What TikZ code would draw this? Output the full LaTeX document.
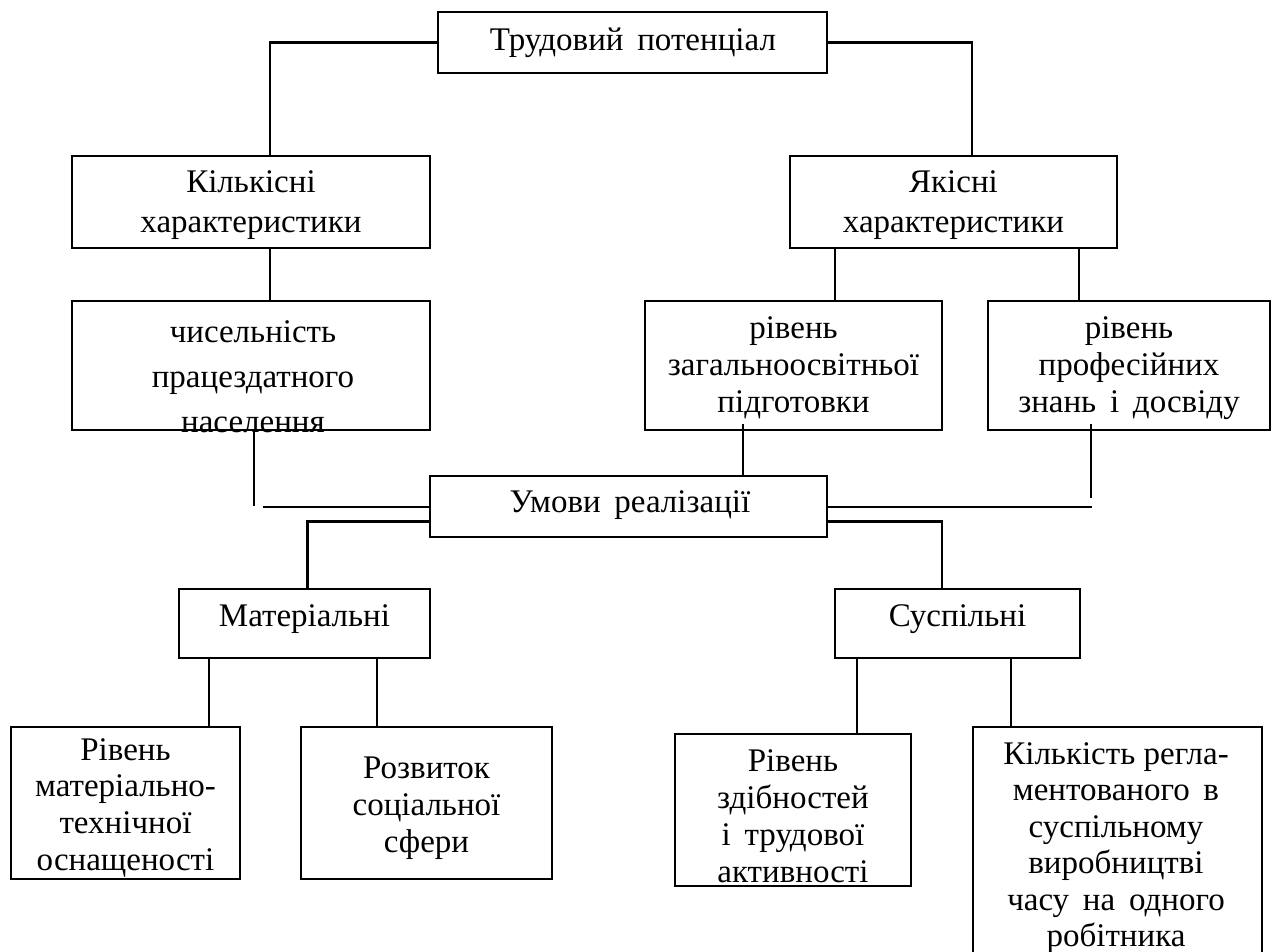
\documentclass[tikz,border=0pt]{standalone}
\usepackage{fontspec}
\setmainfont{Liberation Serif}
\usetikzlibrary{calc}
\begin{document}
\begin{tikzpicture}[x=1pt,y=-1pt,
  box/.style={draw,line width=2.5pt,rectangle,inner sep=0pt},
  txt/.style={align=center,inner sep=0pt,font=\fontsize{33}{37}\selectfont},
  conn/.style={line width=2.5pt}]
\useasboundingbox (0,0) rectangle (1272,952);
\clip (0,0) rectangle (1272,952);
% boxes
\node[box,minimum width=389pt,minimum height=61pt] (top) at (632.5,42.5) {};
\node[box,minimum width=358pt,minimum height=92pt] (kil) at (251,202) {};
\node[box,minimum width=327pt,minimum height=92pt] (yak) at (953.5,202) {};
\node[box,minimum width=358pt,minimum height=129pt] (chys) at (251,365.5) {};
\node[box,minimum width=297pt,minimum height=129pt] (zag) at (793.5,365.5) {};
\node[box,minimum width=282pt,minimum height=129pt] (prof) at (1129,365.5) {};
\node[box,minimum width=397pt,minimum height=61pt] (umovy) at (628.5,506.5) {};
\node[box,minimum width=251pt,minimum height=69pt] (mat) at (304.5,623.5) {};
\node[box,minimum width=245pt,minimum height=69pt] (susp) at (957.5,623.5) {};
\node[box,minimum width=229pt,minimum height=152pt] (rmat) at (125.5,803) {};
\node[box,minimum width=251pt,minimum height=152pt] (rozv) at (426.5,803) {};
\node[box,minimum width=236pt,minimum height=152pt] (rzdib) at (793,810) {};
\node[box,minimum width=289pt,minimum height=263pt] (kilk) at (1117.5,858.5) {};
% texts
\node[txt] (ttop) at (633,43) {Трудовий\, потенціал};
\node[txt,font=\fontsize{33}{40}\selectfont] (tkil) at (251,205) {Кількісні\\характеристики};
\node[txt,font=\fontsize{33}{40}\selectfont] (tyak) at (953.5,205) {Якісні\\характеристики};
\node[txt,font=\fontsize{33}{45}\selectfont] (tchys) at (253,377) {чисельність\\працездатного\\населення};
\node[txt] (tzag) at (793.5,368) {рівень\\загальноосвітньої\\підготовки};
\node[txt] (tprof) at (1129,368) {рівень\\професійних\\знань\, і\, досвіду};
\node[txt] (tumovy) at (630,505) {Умови\, реалізації};
\node[txt] (tmat) at (304.5,619) {Матеріальні};
\node[txt] (tsusp) at (957.5,619) {Суспільні};
\node[txt] (trmat) at (125.5,808) {Рівень\\матеріально-\\технічної\\оснащеності};
\node[txt] (trozv) at (426.5,808) {Розвиток\\соціальної\\сфери};
\node[txt] (trzdib) at (793,816) {Рівень\\здібностей\\і\, трудової\\активності};
\node[txt,font=\fontsize{33}{36.5}\selectfont] (tkilk) at (1116,848) {Кількість регла-\\ментованого\, в\\суспільному\\виробництві\\часу\, на\, одного\\робітника};
% connectors
\draw[conn] (top.west) -| ($(kil.north)+(19,0)$);
\draw[conn] (top.east) -| ($(yak.north)+(18.5,0)$);
\coordinate (k1) at ($(kil.south)+(19,0)$);
\draw[conn] (k1) -- (k1 |- chys.north);
\coordinate (y1) at ($(yak.south)+(-118.5,0)$);
\coordinate (y2) at ($(yak.south)+(125.5,0)$);
\draw[conn] (y1) -- (y1 |- zag.north);
\draw[conn] (y2) -- (y2 |- prof.north);
% chys -> umovy (with small gap as in reference)
\coordinate (c1) at ($(chys.south)+(3,0)$);
\coordinate (c2) at ($(umovy.west)+(-166,0.5)$);
\draw[conn] (c1) -- ($(c1 |- umovy.west)+(0,-1)$);
\draw[conn] (c2) -- ($(umovy.west)+(0,0.5)$);
% zag -> umovy
\coordinate (z1) at ($(zag.south)+(-50.5,-7)$);
\draw[conn] (z1) -- (z1 |- umovy.north);
% prof -> umovy
\coordinate (p1) at ($(prof.south)+(-38,-7)$);
\draw[conn] (p1) -- ($(p1 |- umovy.east)+(0,-8.5)$);
\draw[conn] ($(umovy.east)+(0,0.5)$) -- ($(p1 |- umovy.east)+(1.25,0.5)$);
% umovy -> mat, susp
\draw[conn] ($(umovy.west)+(0,15)$) -| ($(mat.north)+(3,0)$);
\draw[conn] ($(umovy.east)+(0,15)$) -| ($(susp.north)+(-15.5,0)$);
% mat -> children
\coordinate (m1) at ($(mat.south)+(-95.5,0)$);
\coordinate (m2) at ($(mat.south)+(72.5,0)$);
\draw[conn] (m1) -- (m1 |- rmat.north);
\draw[conn] (m2) -- (m2 |- rozv.north);
% susp -> children
\coordinate (s1) at ($(susp.south)+(-100.5,0)$);
\coordinate (s2) at ($(susp.south)+(53.5,0)$);
\draw[conn] (s1) -- (s1 |- rzdib.north);
\draw[conn] (s2) -- (s2 |- kilk.north);
\end{tikzpicture}
\end{document}
